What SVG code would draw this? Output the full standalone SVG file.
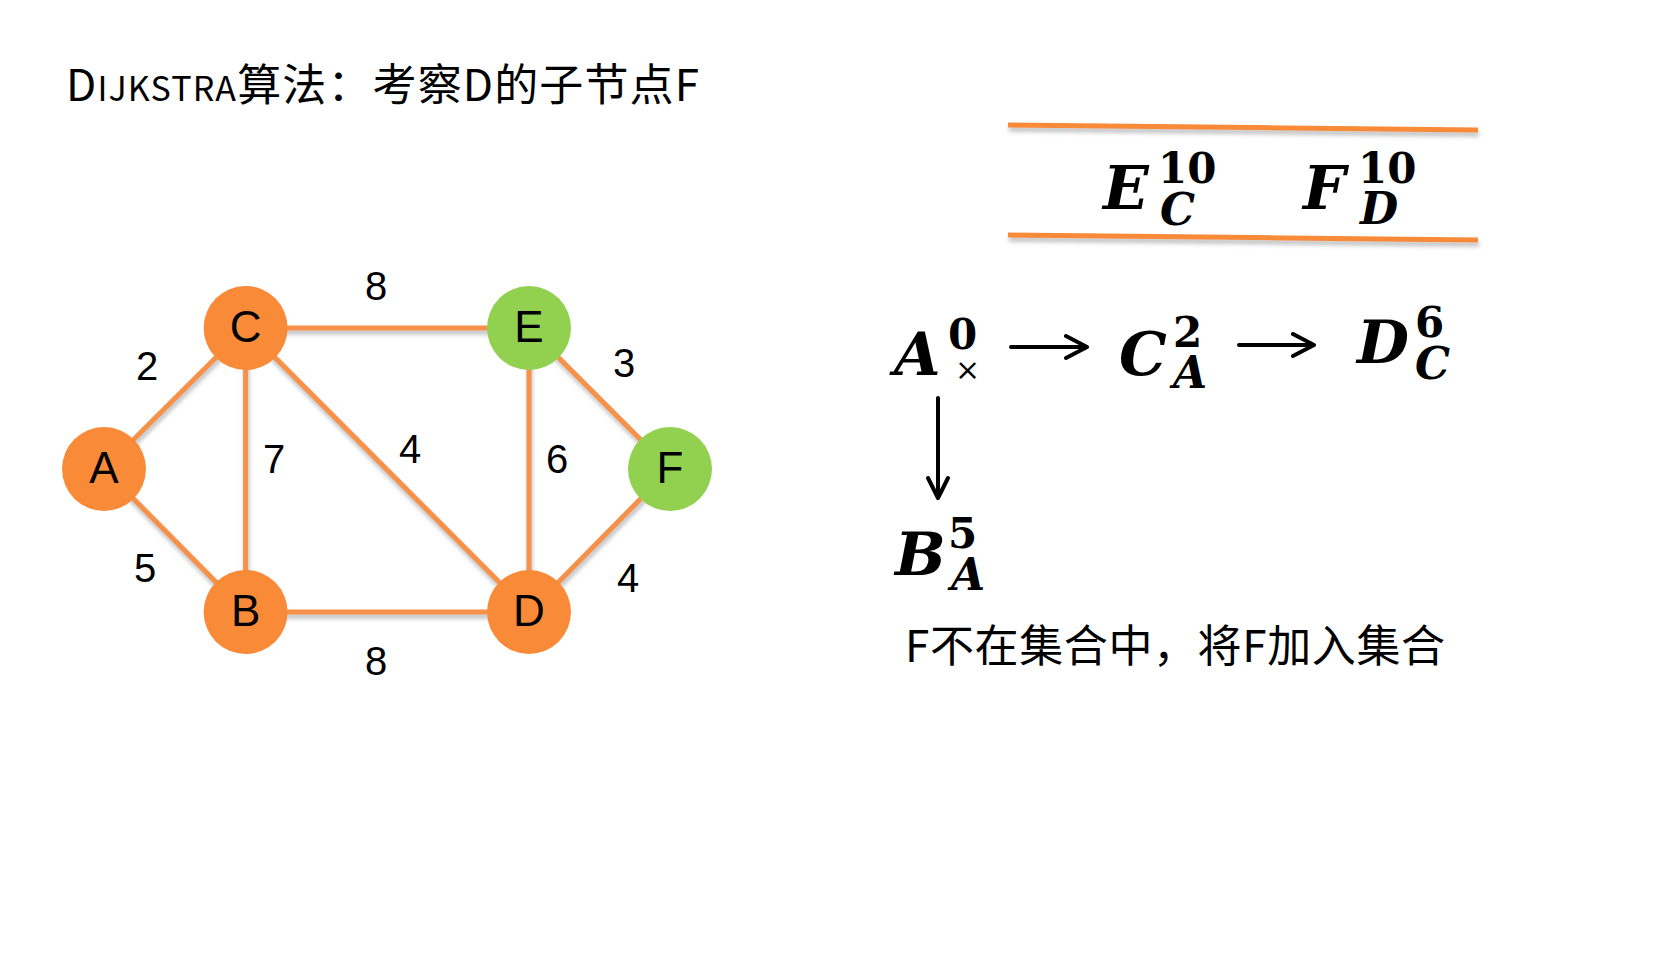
<svg xmlns="http://www.w3.org/2000/svg" width="1660" height="964" viewBox="0 0 1660 964">
<defs>
<filter id="sh" x="-10%" y="-30%" width="120%" height="200%">
<feDropShadow dx="1" dy="4" stdDeviation="2" flood-color="#888" flood-opacity="0.55"/>
</filter>
<style>
.edge{stroke:#F5914A;stroke-width:5;fill:none;stroke-linecap:butt}
.org{fill:#F98A38}
.grn{fill:#92D050}
.nl{font-family:"Liberation Sans","DejaVu Sans",sans-serif;font-size:44px;fill:#000;text-anchor:middle}
.el{font-family:"Liberation Sans","DejaVu Sans",sans-serif;font-size:40px;fill:#000;text-anchor:middle}
.cjk{font-family:"Noto Sans CJK SC","Noto Sans",sans-serif;fill:#000}
.mv{font-family:"DejaVu Serif","Liberation Serif",serif;font-weight:bold;font-style:italic;fill:#000}
.big{font-size:60px}
.sub{font-size:44px}
.sup{font-family:"DejaVu Serif","Liberation Serif",serif;font-weight:bold;font-size:42px;fill:#000}
.arr{stroke:#000;stroke-width:4;fill:none;stroke-linecap:round;stroke-linejoin:round}
.rule{stroke:#F98A38;stroke-width:5;fill:none}
</style>
</defs>
<rect width="1660" height="964" fill="#fff"/>

<g id="title">
<text class="cjk" x="66" y="101" font-size="44" textLength="633" lengthAdjust="spacing">D<tspan font-size="34">IJKSTRA</tspan>算法：考察D的子节点F</text>
</g>

<g id="connectors">
<g filter="url(#sh)">
<line class="edge" x1="104" y1="469" x2="245.6" y2="328"/>
<line class="edge" x1="104" y1="469" x2="245.6" y2="612"/>
<line class="edge" x1="245.6" y1="328" x2="245.6" y2="612"/>
<line class="edge" x1="245.6" y1="328" x2="529" y2="328"/>
<line class="edge" x1="245.6" y1="328" x2="529" y2="612"/>
<line class="edge" x1="529" y1="328" x2="529" y2="612"/>
<line class="edge" x1="529" y1="328" x2="670" y2="469"/>
<line class="edge" x1="245.6" y1="612" x2="529" y2="612"/>
<line class="edge" x1="529" y1="612" x2="670" y2="469"/>
</g>
<text class="el" x="376" y="300">8</text>
<text class="el" x="147" y="380">2</text>
<text class="el" x="624" y="377">3</text>
<text class="el" x="274" y="473">7</text>
<text class="el" x="410" y="463">4</text>
<text class="el" x="557" y="473">6</text>
<text class="el" x="145" y="582">5</text>
<text class="el" x="628" y="592">4</text>
<text class="el" x="376" y="675">8</text>
</g>

<g id="node-A"><circle class="org" cx="104" cy="469" r="42"/><text class="nl" x="104" y="483">A</text></g>
<g id="node-B"><circle class="org" cx="245.6" cy="612" r="42"/><text class="nl" x="245.6" y="626">B</text></g>
<g id="node-C"><circle class="org" cx="245.6" cy="328" r="42"/><text class="nl" x="245.6" y="342">C</text></g>
<g id="node-D"><circle class="org" cx="529" cy="612" r="42"/><text class="nl" x="529" y="626">D</text></g>
<g id="node-E"><circle class="grn" cx="529" cy="328" r="42"/><text class="nl" x="529" y="342">E</text></g>
<g id="node-F"><circle class="grn" cx="670" cy="469" r="42"/><text class="nl" x="670" y="483">F</text></g>

<g id="queue">
<g filter="url(#sh)">
<line class="rule" x1="1008" y1="125" x2="1478" y2="130"/>
<line class="rule" x1="1008" y1="235" x2="1478" y2="240"/>
</g>
<text class="mv big" x="1103" y="209">E</text>
<text class="sup" x="1158" y="183">10</text>
<text class="mv sub" x="1160" y="225">C</text>
<text class="mv big" x="1303" y="209">F</text>
<text class="sup" x="1358" y="183">10</text>
<text class="mv sub" x="1360" y="224">D</text>
</g>

<g id="path-A">
<text class="mv big" x="894" y="375">A</text>
<text class="sup" x="948" y="349">0</text>
<text x="955" y="380" font-family="DejaVu Serif, serif" font-size="30">×</text>
</g>
<g id="path-C">
<text class="mv big" x="1119" y="375">C</text>
<text class="sup" x="1173" y="347">2</text>
<text class="mv sub" x="1173" y="388">A</text>
</g>
<g id="path-D">
<text class="mv big" x="1357" y="363">D</text>
<text class="sup" x="1415" y="337">6</text>
<text class="mv sub" x="1415" y="379">C</text>
</g>
<g id="path-B">
<text class="mv big" x="895" y="575">B</text>
<text class="sup" x="948" y="548">5</text>
<text class="mv sub" x="951" y="590">A</text>
</g>

<g id="arrows">
<path class="arr" d="M1011 347 H1085 M1066 336 L1087 347 L1066 358"/>
<path class="arr" d="M1239 345 H1312 M1293 334 L1314 345 L1293 356"/>
<path class="arr" d="M938 398 V496 M928 478 L938 498 L948 478"/>
</g>

<g id="note">
<text class="cjk" x="905" y="662" font-size="44" textLength="540" lengthAdjust="spacing">F不在集合中，将F加入集合</text>
</g>
</svg>
